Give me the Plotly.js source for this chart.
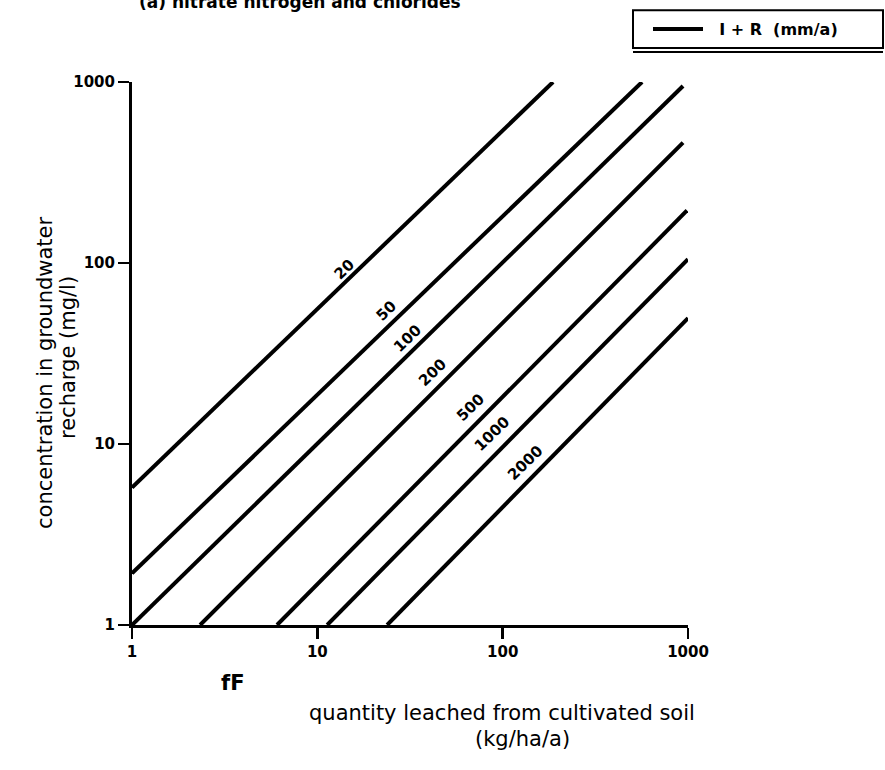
<!DOCTYPE html>
<html>
<head>
<meta charset="utf-8">
<script src="https://cdn.plot.ly/plotly-3.0.1.min.js"></script>
<style>html,body{margin:0;padding:0;background:#fff;}#chart{width:885px;height:770px;}</style>
</head>
<body>
<div id="chart"></div>
<script>
// Recharge rate I + R (mm/a) for each line
var recharge = [20, 50, 100, 200, 500, 1000, 2000];
var lineLabels = ["20", "50", "100", "200", "500", "1000", "2000"];
// Line start / end points (quantity kg/ha/a, concentration mg/l)
var xStart = [1, 1, 1, 2.33, 6.06, 11.3, 23.8];
var yStart = [5.75, 1.93, 1, 1, 1, 1, 1];
var xEnd = [187, 565, 940, 940, 988, 1000, 1000];
var yEnd = [1000, 1000, 950, 462, 195, 105, 49.6];
// Where each rotated label sits (quantity, concentration)
var labelX = [14.1, 23.5, 30.5, 41.6, 66.7, 87.5, 132];
var labelY = [92.3, 54.2, 38.0, 24.7, 15.8, 11.4, 7.9];
// Axis ticks
var tickVals = [1, 10, 100, 1000];
var tickText = ["1", "10", "100", "1000"];

var traces = recharge.map(function (r, i) {
  return {
    type: "scatter",
    mode: "lines",
    x: [xStart[i], xEnd[i]],
    y: [yStart[i], yEnd[i]],
    name: "\u00a0\u00a0I + R  (mm/a)",
    showlegend: i === 0,
    line: { color: "#000", width: 4 },
    hoverinfo: "skip"
  };
});

var tickFont = { family: "DejaVu Sans", size: 15, color: "#000", weight: "bold" };
var titleFont = { family: "DejaVu Sans", size: 21, color: "#000" };

var annotations = lineLabels.map(function (t, i) {
  return {
    text: t, xref: "x", yref: "y",
    x: Math.log10(labelX[i]), y: Math.log10(labelY[i]),
    showarrow: false, textangle: -44,
    font: { family: "DejaVu Sans", size: 15, color: "#000", weight: "bold" }
  };
});

annotations.push(
  { text: "(a) nitrate nitrogen and chlorides", xref: "paper", yref: "paper",
    x: (300 - 132) / 556, y: (625 - 12) / 545, xanchor: "center", yanchor: "bottom",
    showarrow: false, font: { family: "DejaVu Sans", size: 17, color: "#000", weight: "bold" } },
  { text: "concentration in groundwater", xref: "paper", yref: "paper",
    x: (45 - 132) / 556, y: (625 - 372) / 545, textangle: -90,
    xanchor: "center", yanchor: "middle", showarrow: false, font: titleFont },
  { text: "recharge (mg/l)", xref: "paper", yref: "paper",
    x: (68 - 132) / 556, y: (625 - 357) / 545, textangle: -90,
    xanchor: "center", yanchor: "middle", showarrow: false, font: titleFont },
  { text: "quantity leached from cultivated soil", xref: "paper", yref: "paper",
    x: (502 - 132) / 556, y: (625 - 713) / 545,
    xanchor: "center", yanchor: "middle", showarrow: false, font: titleFont },
  { text: "(kg/ha/a)", xref: "paper", yref: "paper",
    x: (522 - 132) / 556, y: (625 - 739) / 545,
    xanchor: "center", yanchor: "middle", showarrow: false, font: titleFont },
  { text: "fF", xref: "paper", yref: "paper",
    x: (232 - 132) / 556, y: (625 - 683) / 545,
    xanchor: "center", yanchor: "middle", showarrow: false,
    font: { family: "DejaVu Sans", size: 21, color: "#000", weight: "bold" } }
);

// legend frame (box with doubled bottom rule)
var px = function (v) { return (v - 132) / 556; };
var py = function (v) { return (625 - v) / 545; };
var shapes = [
  { type: "rect", xref: "paper", yref: "paper", x0: px(633), x1: px(883), y0: py(8), y1: py(46),
    line: { color: "#000", width: 2 }, fillcolor: "rgba(0,0,0,0)" },
  { type: "line", xref: "paper", yref: "paper", x0: px(633), x1: px(883), y0: py(50), y1: py(50),
    line: { color: "#000", width: 2 } }
];

var layout = {
  width: 885, height: 770,
  margin: { l: 132, r: 197, t: 80, b: 145, pad: 0 },
  paper_bgcolor: "#fff", plot_bgcolor: "#fff",
  showlegend: true,
  legend: {
    x: px(648), y: py(27), xanchor: "left", yanchor: "middle",
    borderwidth: 0, bgcolor: "rgba(0,0,0,0)",
    font: { family: "DejaVu Sans", size: 16, color: "#000", weight: "bold" },
    itemwidth: 50
  },
  shapes: shapes,
  xaxis: {
    type: "log", range: [0, 3], tickvals: tickVals, ticktext: tickText,
    showline: true, linecolor: "#000", linewidth: 3, mirror: false,
    ticks: "outside", ticklen: 11, tickwidth: 2.5, tickcolor: "#000",
    showgrid: false, zeroline: false, tickfont: tickFont, fixedrange: true
  },
  yaxis: {
    type: "log", range: [0, 3], tickvals: tickVals, ticktext: tickText,
    showline: true, linecolor: "#000", linewidth: 3, mirror: false,
    ticks: "outside", ticklen: 11, tickwidth: 2.5, tickcolor: "#000",
    showgrid: false, zeroline: false, tickfont: tickFont, fixedrange: true
  },
  annotations: annotations
};

Plotly.newPlot("chart", traces, layout, { displayModeBar: false, staticPlot: true });
</script>
</body>
</html>
